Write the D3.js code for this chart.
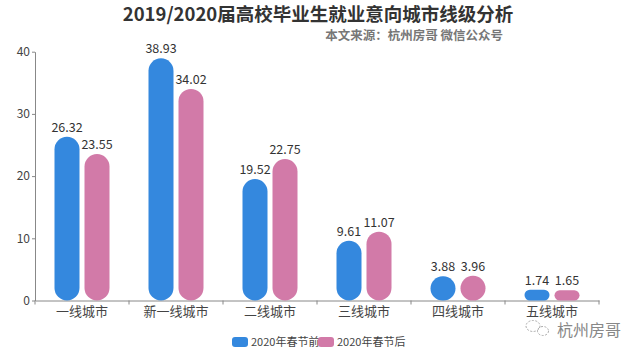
<!DOCTYPE html>
<html><head><meta charset="utf-8">
<script src="https://cdn.jsdelivr.net/npm/d3@7/dist/d3.min.js"></script>
<style>
html,body{margin:0;padding:0;background:#fff;}
svg{display:block;font-family:"Noto Sans CJK SC","Noto Sans",sans-serif;}
</style></head>
<body><svg id="c" width="640" height="352"></svg>
<script>
const categories = ["一线城市","新一线城市","二线城市","三线城市","四线城市","五线城市"];
const seriesNames = ["2020年春节前","2020年春节后"];
const before = [26.32, 38.93, 19.52, 9.61, 3.88, 1.74];
const after = [23.55, 34.02, 22.75, 11.07, 3.96, 1.65];
const yTicks = [0,10,20,30,40];
const colors = ["#3488de","#d27aa8"];
const title = "2019/2020届高校毕业生就业意向城市线级分析";
const subtitle = "本文来源：杭州房哥 微信公众号";

const svg = d3.select("#c");
const x0 = d3.scaleBand().domain(categories).range([35, 599]).paddingInner(0).paddingOuter(0);
const x1 = d3.scaleBand().domain(seriesNames).range([19.5, 74.5]).paddingInner(1/6).paddingOuter(0);
const y = d3.scaleLinear().domain([0,40]).range([300.5, 51.7]);
const color = d3.scaleOrdinal().domain(seriesNames).range(colors);

// title
svg.append("text").attr("x",318).attr("y",21).attr("text-anchor","middle")
  .attr("font-size",18.5).attr("font-weight","bold").attr("fill","#333").text(title);
svg.append("text").attr("x",503).attr("y",40).attr("text-anchor","end")
  .attr("font-size",12.5).attr("font-weight","bold").attr("fill","#777").text(subtitle);

// y axis
const yAxis = svg.append("g").attr("transform","translate(35,0)")
  .call(d3.axisLeft(y).tickValues(yTicks).tickSize(3).tickSizeOuter(0).tickPadding(2));
yAxis.select(".domain").attr("stroke","#888");
yAxis.selectAll(".tick line").attr("stroke","#888");
yAxis.selectAll(".tick text").attr("font-size",12).attr("fill","#444").attr("font-family","'Noto Sans CJK SC',sans-serif");

// x axis
const xAxis = svg.append("g").attr("transform",`translate(0,${y(0)})`)
  .call(d3.axisBottom(x0).tickSize(0).tickPadding(6));
xAxis.select(".domain").attr("stroke","#888");
xAxis.selectAll(".tick text").attr("font-size",13).attr("fill","#444").attr("font-family","'Noto Sans CJK SC',sans-serif");
// boundary ticks
xAxis.selectAll(".bt").data(d3.range(categories.length+1)).enter().append("line")
  .attr("x1",i=>35+i*x0.step()).attr("x2",i=>35+i*x0.step())
  .attr("y1",0).attr("y2",4).attr("stroke","#888");

// bars
const data = categories.map((c,i)=>({cat:c, vals:[{s:seriesNames[0],v:before[i]},{s:seriesNames[1],v:after[i]}]}));
const g = svg.selectAll(".grp").data(data).enter().append("g")
  .attr("transform",d=>`translate(${x0(d.cat)},0)`);
g.selectAll("rect").data(d=>d.vals).enter().append("rect")
  .attr("x",d=>x1(d.s)).attr("width",x1.bandwidth())
  .attr("y",d=>y(d.v)).attr("height",d=>y(0)-y(d.v))
  .attr("rx",d=>Math.min(x1.bandwidth()/2,(y(0)-y(d.v))/2))
  .attr("ry",d=>Math.min(x1.bandwidth()/2,(y(0)-y(d.v))/2))
  .attr("fill",d=>color(d.s));
g.selectAll("text.v").data(d=>d.vals).enter().append("text").attr("class","v")
  .attr("x",d=>x1(d.s)+x1.bandwidth()/2).attr("y",d=>y(d.v)-5)
  .attr("text-anchor","middle").attr("font-size",12.5).attr("fill","#333")
  .text(d=>d.v.toFixed(2));

// legend
const leg = svg.append("g");
const legItems = [{s:seriesNames[0],x:232},{s:seriesNames[1],x:318}];
legItems.forEach(it=>{
  leg.append("rect").attr("x",it.x).attr("y",337).attr("width",16).attr("height",10).attr("rx",3)
    .attr("fill",color(it.s));
  leg.append("text").attr("x",it.x+19).attr("y",346).attr("font-size",11).attr("fill","#444").text(it.s);
});

// watermark
const wm = svg.append("g").attr("fill","none").attr("stroke","#aaa").attr("stroke-width",1).attr("stroke-dasharray","2,1.5");
wm.append("ellipse").attr("cx",533).attr("cy",326).attr("rx",7).attr("ry",5.5);
wm.append("ellipse").attr("cx",543).attr("cy",331).attr("rx",5.5).attr("ry",4.5);
svg.append("text").attr("x",557).attr("y",336).attr("font-size",16).attr("fill","#888").text("杭州房哥");
</script></body></html>
